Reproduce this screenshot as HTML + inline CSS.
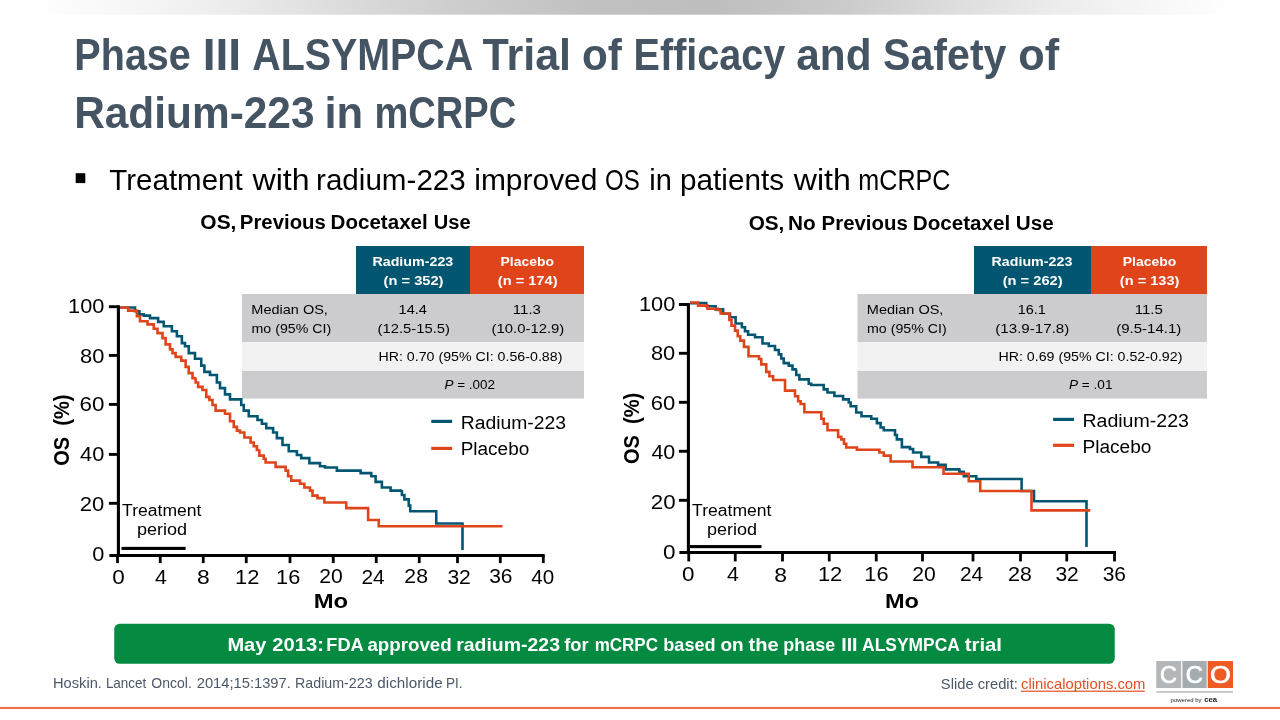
<!DOCTYPE html>
<html lang="en"><head><meta charset="utf-8"><title>Phase III ALSYMPCA Trial of Efficacy and Safety of Radium-223 in mCRPC</title>
<style>html,body{margin:0;padding:0;background:#fff;width:1280px;height:720px;overflow:hidden}svg{display:block}text{white-space:pre}</style></head><body>
<svg width="1280" height="720" viewBox="0 0 1280 720" font-family="'Liberation Sans', sans-serif">
<defs><linearGradient id="tg" x1="0" x2="1" y1="0" y2="0"><stop offset="0" stop-color="#ffffff"/><stop offset="0.03" stop-color="#fefefe"/><stop offset="0.08" stop-color="#f9f9f9"/><stop offset="0.16" stop-color="#efefef"/><stop offset="0.25" stop-color="#dfdfdf"/><stop offset="0.35" stop-color="#cecece"/><stop offset="0.47" stop-color="#c0c0c0"/><stop offset="0.56" stop-color="#bebebe"/><stop offset="0.66" stop-color="#cbcbcb"/><stop offset="0.75" stop-color="#dedede"/><stop offset="0.83" stop-color="#ededed"/><stop offset="0.91" stop-color="#f8f8f8"/><stop offset="0.965" stop-color="#ffffff"/><stop offset="1" stop-color="#ffffff"/></linearGradient></defs>
<rect width="1280" height="720" fill="#fff"/>
<rect x="0" y="0" width="1280" height="14.7" fill="url(#tg)"/>
<text y="70.25" font-size="44.2" fill="#445462" font-weight="bold"><tspan x="74.36" textLength="116.50" lengthAdjust="spacingAndGlyphs">Phase</tspan> <tspan x="202.67" textLength="38.42" lengthAdjust="spacingAndGlyphs">III</tspan> <tspan x="252.28" textLength="219.51" lengthAdjust="spacingAndGlyphs">ALSYMPCA</tspan> <tspan x="482.52" textLength="88.53" lengthAdjust="spacingAndGlyphs">Trial</tspan> <tspan x="582.10" textLength="39.82" lengthAdjust="spacingAndGlyphs">of</tspan> <tspan x="633.61" textLength="151.61" lengthAdjust="spacingAndGlyphs">Efficacy</tspan> <tspan x="796.26" textLength="75.28" lengthAdjust="spacingAndGlyphs">and</tspan> <tspan x="883.07" textLength="123.41" lengthAdjust="spacingAndGlyphs">Safety</tspan> <tspan x="1018.31" textLength="40.86" lengthAdjust="spacingAndGlyphs">of</tspan></text>
<text y="127.60" font-size="44.2" fill="#445462" font-weight="bold"><tspan x="74.16" textLength="240.37" lengthAdjust="spacingAndGlyphs">Radium-223</tspan> <tspan x="324.46" textLength="38.75" lengthAdjust="spacingAndGlyphs">in</tspan> <tspan x="374.49" textLength="141.80" lengthAdjust="spacingAndGlyphs">mCRPC</tspan></text>
<rect x="75.7" y="173.2" width="9.6" height="9.9" fill="#000"/>
<text y="189.70" font-size="29.3" fill="#000"><tspan x="109.34" textLength="133.38" lengthAdjust="spacingAndGlyphs">Treatment</tspan> <tspan x="252.55" textLength="57.04" lengthAdjust="spacingAndGlyphs">with</tspan> <tspan x="316.03" textLength="149.77" lengthAdjust="spacingAndGlyphs">radium-223</tspan> <tspan x="474.25" textLength="123.18" lengthAdjust="spacingAndGlyphs">improved</tspan> <tspan x="605.11" textLength="34.74" lengthAdjust="spacingAndGlyphs">OS</tspan> <tspan x="649.31" textLength="22.57" lengthAdjust="spacingAndGlyphs">in</tspan> <tspan x="680.09" textLength="103.99" lengthAdjust="spacingAndGlyphs">patients</tspan> <tspan x="793.80" textLength="57.04" lengthAdjust="spacingAndGlyphs">with</tspan> <tspan x="858.33" textLength="92.13" lengthAdjust="spacingAndGlyphs">mCRPC</tspan></text>
<text y="228.70" font-size="20" fill="#000" font-weight="bold"><tspan x="200.39" textLength="36.01" lengthAdjust="spacingAndGlyphs">OS,</tspan> <tspan x="239.89" textLength="85.95" lengthAdjust="spacingAndGlyphs">Previous</tspan> <tspan x="330.63" textLength="97.08" lengthAdjust="spacingAndGlyphs">Docetaxel</tspan> <tspan x="433.79" textLength="36.90" lengthAdjust="spacingAndGlyphs">Use</tspan></text>
<text y="229.60" font-size="20" fill="#000" font-weight="bold"><tspan x="748.65" textLength="35.74" lengthAdjust="spacingAndGlyphs">OS,</tspan> <tspan x="788.11" textLength="27.70" lengthAdjust="spacingAndGlyphs">No</tspan> <tspan x="821.63" textLength="86.20" lengthAdjust="spacingAndGlyphs">Previous</tspan> <tspan x="912.87" textLength="97.34" lengthAdjust="spacingAndGlyphs">Docetaxel</tspan> <tspan x="1015.76" textLength="37.95" lengthAdjust="spacingAndGlyphs">Use</tspan></text>
<rect x="356" y="246" width="114" height="48" fill="#025671"/>
<rect x="470" y="246" width="114" height="48" fill="#E0441A"/>
<rect x="242" y="294" width="342" height="48" fill="#CCCCCE"/>
<rect x="242" y="342" width="342" height="29" fill="#F2F2F2"/>
<rect x="242" y="371" width="342" height="27.6" fill="#CCCCCE"/>
<text x="372.45" y="265.75" font-size="13.5" textLength="80.82" lengthAdjust="spacingAndGlyphs" fill="#fff" font-weight="bold" >Radium-223</text>
<text x="383.57" y="284.50" font-size="13.5" textLength="59.96" lengthAdjust="spacingAndGlyphs" fill="#fff" font-weight="bold" >(n = 352)</text>
<text x="500.57" y="265.75" font-size="13.5" textLength="53.37" lengthAdjust="spacingAndGlyphs" fill="#fff" font-weight="bold" >Placebo</text>
<text x="497.77" y="284.50" font-size="13.5" textLength="59.76" lengthAdjust="spacingAndGlyphs" fill="#fff" font-weight="bold" >(n = 174)</text>
<text x="251.31" y="313.80" font-size="13.5" textLength="76.59" lengthAdjust="spacingAndGlyphs" fill="#000" >Median OS,</text>
<text x="251.56" y="332.80" font-size="13.5" textLength="79.62" lengthAdjust="spacingAndGlyphs" fill="#000" >mo (95% CI)</text>
<text x="398.59" y="313.75" font-size="13.5" textLength="28.34" lengthAdjust="spacingAndGlyphs" fill="#000" >14.4</text>
<text x="377.58" y="332.60" font-size="13.5" textLength="72.33" lengthAdjust="spacingAndGlyphs" fill="#000" >(12.5-15.5)</text>
<text x="512.86" y="313.75" font-size="13.5" textLength="28.10" lengthAdjust="spacingAndGlyphs" fill="#000" >11.3</text>
<text x="491.58" y="332.60" font-size="13.5" textLength="72.74" lengthAdjust="spacingAndGlyphs" fill="#000" >(10.0-12.9)</text>
<text x="378.43" y="360.90" font-size="13.5" textLength="183.95" lengthAdjust="spacingAndGlyphs" fill="#000" >HR: 0.70 (95% CI: 0.56-0.88)</text>
<text x="444.50" y="388.8" font-size="13.5" textLength="50.50" lengthAdjust="spacingAndGlyphs"><tspan font-style="italic">P</tspan> = .002</text>
<rect x="974" y="246" width="117" height="48" fill="#025671"/>
<rect x="1091" y="246" width="116" height="48" fill="#E0441A"/>
<rect x="857.5" y="294" width="349.5" height="48" fill="#CCCCCE"/>
<rect x="857.5" y="342" width="349.5" height="29" fill="#F2F2F2"/>
<rect x="857.5" y="371" width="349.5" height="27.6" fill="#CCCCCE"/>
<text x="991.55" y="265.75" font-size="13.5" textLength="80.77" lengthAdjust="spacingAndGlyphs" fill="#fff" font-weight="bold" >Radium-223</text>
<text x="1002.67" y="284.50" font-size="13.5" textLength="59.96" lengthAdjust="spacingAndGlyphs" fill="#fff" font-weight="bold" >(n = 262)</text>
<text x="1122.82" y="265.75" font-size="13.5" textLength="53.43" lengthAdjust="spacingAndGlyphs" fill="#fff" font-weight="bold" >Placebo</text>
<text x="1119.87" y="284.50" font-size="13.5" textLength="59.55" lengthAdjust="spacingAndGlyphs" fill="#fff" font-weight="bold" >(n = 133)</text>
<text x="866.81" y="313.80" font-size="13.5" textLength="76.59" lengthAdjust="spacingAndGlyphs" fill="#000" >Median OS,</text>
<text x="867.06" y="332.80" font-size="13.5" textLength="79.62" lengthAdjust="spacingAndGlyphs" fill="#000" >mo (95% CI)</text>
<text x="1017.65" y="313.75" font-size="13.5" textLength="28.05" lengthAdjust="spacingAndGlyphs" fill="#000" >16.1</text>
<text x="995.31" y="332.60" font-size="13.5" textLength="74.03" lengthAdjust="spacingAndGlyphs" fill="#000" >(13.9-17.8)</text>
<text x="1134.76" y="313.75" font-size="13.5" textLength="28.07" lengthAdjust="spacingAndGlyphs" fill="#000" >11.5</text>
<text x="1116.27" y="332.60" font-size="13.5" textLength="65.06" lengthAdjust="spacingAndGlyphs" fill="#000" >(9.5-14.1)</text>
<text x="998.43" y="360.90" font-size="13.5" textLength="183.95" lengthAdjust="spacingAndGlyphs" fill="#000" >HR: 0.69 (95% CI: 0.52-0.92)</text>
<text x="1069.00" y="388.8" font-size="13.5" textLength="43.50" lengthAdjust="spacingAndGlyphs"><tspan font-style="italic">P</tspan> = .01</text>
<path d="M120,307.5 L135,307.5 L135,311.25 L139.38,311.25 L139.38,314.38 L143.75,314.38 L143.75,315.62 L150,315.62 L150,318.12 L158.12,318.12 L158.12,321.88 L163.75,321.88 L163.75,326.25 L171.88,326.25 L171.88,331.25 L176.88,331.25 L176.88,336.25 L181.88,336.25 L181.88,343.12 L185,343.12 L185,346.25 L188.75,346.25 L188.75,353.12 L195,353.12 L195,358.75 L201.25,358.75 L201.25,365.62 L204.38,365.62 L204.38,371.88 L210,371.88 L210,375 L213.75,375 L216.88,375 L216.88,376.88 L216.88,382.5 L220,382.5 L220,388.12 L225,388.12 L225,394.38 L230,394.38 L230,399.38 L241.25,399.38 L241.25,405 L243.75,405 L243.75,410.62 L248.75,410.62 L248.75,416.25 L257.5,416.25 L257.5,420 L261.88,420 L261.88,423.75 L266.25,423.75 L266.25,428.12 L273.12,428.12 L273.12,432.5 L276.88,432.5 L276.88,438.12 L282.5,438.12 L282.5,445 L288.75,445 L288.75,451.25 L296.88,451.25 L296.88,455 L301.25,455 L301.25,458.12 L309.38,458.12 L309.38,463.12 L320,463.12 L320,466.25 L325,466.25 L325,467.5 L336.88,467.5 L336.88,470.62 L360.62,470.62 L360.62,473.12 L371.25,473.12 L371.25,476.25 L375.62,476.25 L375.62,481.88 L381.88,481.88 L381.88,487.5 L390.62,487.5 L390.62,490.62 L401.88,490.62 L401.88,490 L401.88,495 L404.38,495 L404.38,499.38 L408.75,499.38 L408.75,505.62 L410.25,505.62 L410.25,511.25 L436.25,511.25 L436.25,523.5 L462.5,523.5 L462.5,550" fill="none" stroke="#025671" stroke-width="2.6" stroke-linejoin="miter"/>
<path d="M120,307.5 L128.12,307.5 L128.12,310.62 L136.88,310.62 L136.88,316.25 L140,316.25 L140,321.25 L147.5,321.25 L147.5,324.38 L153.75,324.38 L153.75,328.75 L157.5,328.75 L157.5,333.12 L162.5,333.12 L162.5,338.12 L165.62,338.12 L165.62,344.38 L170,344.38 L170,349.38 L172.5,349.38 L172.5,353.12 L175.62,353.12 L175.62,356.88 L181.25,356.88 L181.25,360.62 L185.62,360.62 L185.62,366.88 L188.75,366.88 L188.75,373.12 L192.5,373.12 L192.5,378.12 L195.62,378.12 L195.62,377.5 L195.62,382.5 L198.12,382.5 L198.12,386.88 L202.5,386.88 L202.5,390 L206.25,390 L206.25,396.88 L209.38,396.88 L209.38,400 L212.5,400 L212.5,405 L215.62,405 L215.62,410.62 L225,410.62 L225,413.75 L230,413.75 L230,421.25 L233.75,421.25 L233.75,426.88 L236.88,426.88 L236.88,430.62 L240,430.62 L240,432.5 L244.38,432.5 L244.38,437.5 L250.62,437.5 L250.62,442.5 L253.75,442.5 L253.75,446.25 L256.88,446.25 L256.88,450 L259.38,450 L259.38,449.38 L259.38,455.62 L263.75,455.62 L263.75,458.75 L265.62,458.75 L265.62,462.5 L275.62,462.5 L275.62,466.88 L285.62,466.88 L285.62,470.62 L288.12,470.62 L288.12,476.25 L291.25,476.25 L291.25,480.62 L300,480.62 L300,483.75 L304.38,483.75 L304.38,487.5 L310,487.5 L310,490.62 L312.5,490.62 L312.5,495.62 L317.5,495.62 L317.5,498.12 L324.38,498.12 L324.38,502.5 L346.25,502.5 L346.25,508.12 L368.12,508.12 L368.12,520 L378.75,520 L378.75,526.25 L502.5,526.25" fill="none" stroke="#E0441A" stroke-width="2.6" stroke-linejoin="miter"/>
<rect x="116.85000000000001" y="305.25" width="3.1" height="251.75" fill="#000"/>
<rect x="109.4" y="554.0" width="435.30000000000007" height="3" fill="#000"/>
<rect x="108.9" y="305.25" width="9.5" height="2.9" fill="#000"/>
<rect x="108.9" y="353.95" width="9.5" height="2.9" fill="#000"/>
<rect x="108.9" y="402.95" width="9.5" height="2.9" fill="#000"/>
<rect x="108.9" y="452.95" width="9.5" height="2.9" fill="#000"/>
<rect x="108.9" y="501.85" width="9.5" height="2.9" fill="#000"/>
<text x="68.09" y="312.90" font-size="21" textLength="36.25" lengthAdjust="spacingAndGlyphs" fill="#000" >100</text>
<text x="80.05" y="362.50" font-size="21" textLength="24.30" lengthAdjust="spacingAndGlyphs" fill="#000" >80</text>
<text x="79.46" y="411.25" font-size="21" textLength="24.91" lengthAdjust="spacingAndGlyphs" fill="#000" >60</text>
<text x="80.10" y="461.00" font-size="21" textLength="24.25" lengthAdjust="spacingAndGlyphs" fill="#000" >40</text>
<text x="79.89" y="510.60" font-size="21" textLength="24.47" lengthAdjust="spacingAndGlyphs" fill="#000" >20</text>
<text x="92.25" y="560.60" font-size="21" textLength="12.10" lengthAdjust="spacingAndGlyphs" fill="#000" >0</text>
<rect x="116.1" y="555.5" width="2.8" height="7.6" fill="#000"/>
<text x="112.15" y="584.00" font-size="21" textLength="12.51" lengthAdjust="spacingAndGlyphs" fill="#000" >0</text>
<rect x="158.85" y="555.5" width="2.8" height="7.6" fill="#000"/>
<text x="155.04" y="584.00" font-size="21" textLength="11.86" lengthAdjust="spacingAndGlyphs" fill="#000" >4</text>
<rect x="201.85" y="555.5" width="2.8" height="7.6" fill="#000"/>
<text x="197.03" y="584.00" font-size="21" textLength="12.74" lengthAdjust="spacingAndGlyphs" fill="#000" >8</text>
<rect x="244.85" y="555.5" width="2.8" height="7.6" fill="#000"/>
<text x="235.03" y="584.00" font-size="21" textLength="24.37" lengthAdjust="spacingAndGlyphs" fill="#000" >12</text>
<rect x="288.6" y="555.5" width="2.8" height="7.6" fill="#000"/>
<text x="276.14" y="584.00" font-size="21" textLength="24.21" lengthAdjust="spacingAndGlyphs" fill="#000" >16</text>
<rect x="331.85" y="555.5" width="2.8" height="7.6" fill="#000"/>
<text x="319.39" y="583.10" font-size="21" textLength="23.49" lengthAdjust="spacingAndGlyphs" fill="#000" >20</text>
<rect x="374.85" y="555.5" width="2.8" height="7.6" fill="#000"/>
<text x="361.45" y="584.00" font-size="21" textLength="23.26" lengthAdjust="spacingAndGlyphs" fill="#000" >24</text>
<rect x="417.85" y="555.5" width="2.8" height="7.6" fill="#000"/>
<text x="404.38" y="582.75" font-size="21" textLength="23.59" lengthAdjust="spacingAndGlyphs" fill="#000" >28</text>
<rect x="456.1" y="555.5" width="2.8" height="7.6" fill="#000"/>
<text x="447.40" y="584.00" font-size="21" textLength="23.46" lengthAdjust="spacingAndGlyphs" fill="#000" >32</text>
<rect x="498.90000000000003" y="555.5" width="2.8" height="7.6" fill="#000"/>
<text x="489.15" y="582.75" font-size="21" textLength="23.32" lengthAdjust="spacingAndGlyphs" fill="#000" >36</text>
<rect x="541.9" y="555.5" width="2.8" height="7.6" fill="#000"/>
<text x="531.23" y="584.00" font-size="21" textLength="22.88" lengthAdjust="spacingAndGlyphs" fill="#000" >40</text>
<g transform="translate(69,465.0) rotate(-90)"><text x="-0.82" y="0.00" font-size="21.5" textLength="71.22" lengthAdjust="spacingAndGlyphs" fill="#000" font-weight="bold" >OS  (%)</text></g>
<text x="313.81" y="607.75" font-size="20.1" textLength="34.37" lengthAdjust="spacingAndGlyphs" fill="#000" font-weight="bold" >Mo</text>
<text x="122.11" y="515.60" font-size="15.8" textLength="79.27" lengthAdjust="spacingAndGlyphs" fill="#000" >Treatment</text>
<text x="136.94" y="535.00" font-size="15.8" textLength="50.23" lengthAdjust="spacingAndGlyphs" fill="#000" >period</text>
<rect x="121.5" y="546.85" width="64.1" height="3.1" fill="#000"/>
<rect x="431.25" y="419.79999999999995" width="20.850000000000023" height="3.2" fill="#025671"/>
<rect x="431.25" y="446.79999999999995" width="20.850000000000023" height="3.2" fill="#E0441A"/>
<text x="460.66" y="429.00" font-size="18.8" textLength="105.44" lengthAdjust="spacingAndGlyphs" fill="#000" >Radium-223</text>
<text x="460.69" y="454.75" font-size="18.8" textLength="68.60" lengthAdjust="spacingAndGlyphs" fill="#000" >Placebo</text>
<path d="M690,303.12 L706.25,303.12 L706.25,306.25 L715.62,306.25 L715.62,309.38 L723.12,309.38 L723.12,313.75 L730,313.75 L730,317.25 L735.62,317.25 L735.62,323.5 L741.88,323.5 L741.88,327.25 L745,327.25 L745,331.25 L748.12,331.25 L748.12,334.75 L755,334.75 L755,337.25 L762.5,337.25 L762.5,343.5 L768.75,343.5 L768.75,346 L775,346 L775,350 L778.75,350 L778.75,354.38 L781.25,354.38 L781.25,358.5 L783.75,358.5 L783.75,363.12 L788.75,363.12 L788.75,365.62 L792.5,365.62 L792.5,369.38 L796.88,369.38 L796.25,369.38 L796.25,375 L799.38,375 L799.38,379.38 L808.75,379.38 L808.75,383.75 L811.25,383.75 L811.25,385 L823.75,385 L823.75,389.38 L827.5,389.38 L827.5,392.5 L834.38,392.5 L834.38,396 L843.12,396 L843.12,399.38 L848.75,399.38 L848.75,402.5 L850.62,402.5 L850.62,406.25 L856.25,406.25 L856.25,412.5 L861.5,412.5 L861.5,416.25 L871.25,416.25 L871.25,418.75 L876.88,418.75 L876.88,423.12 L880.62,423.12 L880.62,427.5 L883.75,427.5 L883.75,430.25 L895,430.25 L895,435 L896.88,435 L896.88,439.38 L899.75,439.38 L901.88,439.38 L901.88,443.12 L901.88,447.12 L910,447.12 L910,449 L913.12,449 L913.12,452.5 L921.25,452.5 L921.25,456.88 L929,456.88 L929,462.5 L938.12,462.5 L938.12,464.75 L945.62,464.75 L945.62,469.38 L959.38,469.38 L959.38,471.88 L963.75,471.88 L963.75,476.25 L976.25,476.25 L976.25,479 L1021.62,479 L1021.62,479.38 L1021.62,491 L1034,491 L1034,501.25 L1086.5,501.25 L1086.5,546.88" fill="none" stroke="#025671" stroke-width="2.6" stroke-linejoin="miter"/>
<path d="M690,302.5 L698.12,302.5 L698.12,305.62 L707.5,305.62 L707.5,308.75 L717.5,308.75 L717.5,310 L720.62,310 L720.62,313.5 L729.38,313.5 L729.38,320 L731.5,320 L731.5,325.62 L735,325.62 L735,330.62 L737.75,330.62 L737.75,336.25 L740.25,336.25 L740.25,340.62 L744,340.62 L744,346.88 L748.5,346.88 L748.5,356.25 L759,356.25 L759,359 L761.25,359 L761.25,364.38 L766.25,364.38 L766.25,371.88 L769.38,371.88 L769.38,376.25 L773.12,376.25 L773.12,380 L785,380 L785,390.62 L795,390.62 L795,396.25 L798.12,396.25 L798.12,401.25 L800.62,401.25 L800.62,404 L804.38,404 L804.38,412.25 L821.25,412.25 L821.25,418.75 L823.75,418.75 L823.75,423.75 L827.5,423.75 L827.5,430.25 L838.12,430.25 L838.12,436.88 L841.25,436.88 L841.25,439.38 L844,439.38 L844,443.75 L846.25,443.75 L846.25,447.5 L856.88,447.5 L856.88,449.75 L879.38,449.75 L879.38,452.5 L883.75,452.5 L883.75,455.62 L890.62,455.62 L890.62,461.5 L912.5,461.5 L912.5,467.25 L943.5,467.25 L943.5,473.75 L968.75,473.75 L968.75,481.25 L980.25,481.25 L980.25,491 L1031.5,491 L1031.5,510.38 L1090.25,510.38" fill="none" stroke="#E0441A" stroke-width="2.6" stroke-linejoin="miter"/>
<rect x="686.85" y="303.05" width="3.1" height="250.95" fill="#000"/>
<rect x="679.4" y="551.0" width="436.5000000000001" height="3" fill="#000"/>
<rect x="678.9" y="303.05" width="9.5" height="2.9" fill="#000"/>
<rect x="678.9" y="351.85" width="9.5" height="2.9" fill="#000"/>
<rect x="678.9" y="400.85" width="9.5" height="2.9" fill="#000"/>
<rect x="678.9" y="449.8" width="9.5" height="2.9" fill="#000"/>
<rect x="678.9" y="498.85" width="9.5" height="2.9" fill="#000"/>
<text x="638.94" y="310.60" font-size="21" textLength="36.31" lengthAdjust="spacingAndGlyphs" fill="#000" >100</text>
<text x="650.95" y="360.00" font-size="21" textLength="24.30" lengthAdjust="spacingAndGlyphs" fill="#000" >80</text>
<text x="650.78" y="409.60" font-size="21" textLength="24.48" lengthAdjust="spacingAndGlyphs" fill="#000" >60</text>
<text x="651.41" y="458.75" font-size="21" textLength="23.83" lengthAdjust="spacingAndGlyphs" fill="#000" >40</text>
<text x="650.78" y="508.75" font-size="21" textLength="24.85" lengthAdjust="spacingAndGlyphs" fill="#000" >20</text>
<text x="663.12" y="558.75" font-size="21" textLength="12.51" lengthAdjust="spacingAndGlyphs" fill="#000" >0</text>
<rect x="687.35" y="552.5" width="2.8" height="8.9" fill="#000"/>
<text x="682.00" y="581.00" font-size="21" textLength="12.51" lengthAdjust="spacingAndGlyphs" fill="#000" >0</text>
<rect x="733.85" y="552.5" width="2.8" height="8.9" fill="#000"/>
<text x="727.14" y="581.00" font-size="21" textLength="11.86" lengthAdjust="spacingAndGlyphs" fill="#000" >4</text>
<rect x="781.1" y="552.5" width="2.8" height="8.9" fill="#000"/>
<text x="774.38" y="582.25" font-size="21" textLength="12.74" lengthAdjust="spacingAndGlyphs" fill="#000" >8</text>
<rect x="827.85" y="552.5" width="2.8" height="8.9" fill="#000"/>
<text x="817.93" y="581.00" font-size="21" textLength="24.37" lengthAdjust="spacingAndGlyphs" fill="#000" >12</text>
<rect x="874.85" y="552.5" width="2.8" height="8.9" fill="#000"/>
<text x="864.29" y="581.00" font-size="21" textLength="24.21" lengthAdjust="spacingAndGlyphs" fill="#000" >16</text>
<rect x="921.1" y="552.5" width="2.8" height="8.9" fill="#000"/>
<text x="912.39" y="581.00" font-size="21" textLength="23.49" lengthAdjust="spacingAndGlyphs" fill="#000" >20</text>
<rect x="971.6" y="552.5" width="2.8" height="8.9" fill="#000"/>
<text x="959.90" y="581.00" font-size="21" textLength="23.26" lengthAdjust="spacingAndGlyphs" fill="#000" >24</text>
<rect x="1019.1" y="552.5" width="2.8" height="8.9" fill="#000"/>
<text x="1008.13" y="581.00" font-size="21" textLength="23.59" lengthAdjust="spacingAndGlyphs" fill="#000" >28</text>
<rect x="1065.35" y="552.5" width="2.8" height="8.9" fill="#000"/>
<text x="1055.40" y="581.00" font-size="21" textLength="23.46" lengthAdjust="spacingAndGlyphs" fill="#000" >32</text>
<rect x="1113.1" y="552.5" width="2.8" height="8.9" fill="#000"/>
<text x="1102.65" y="581.00" font-size="21" textLength="23.32" lengthAdjust="spacingAndGlyphs" fill="#000" >36</text>
<g transform="translate(639,463.15) rotate(-90)"><text x="-0.82" y="0.00" font-size="21.5" textLength="71.22" lengthAdjust="spacingAndGlyphs" fill="#000" font-weight="bold" >OS  (%)</text></g>
<text x="885.03" y="607.75" font-size="20.1" textLength="33.99" lengthAdjust="spacingAndGlyphs" fill="#000" font-weight="bold" >Mo</text>
<text x="692.11" y="515.60" font-size="15.8" textLength="79.27" lengthAdjust="spacingAndGlyphs" fill="#000" >Treatment</text>
<text x="706.94" y="535.00" font-size="15.8" textLength="50.23" lengthAdjust="spacingAndGlyphs" fill="#000" >period</text>
<rect x="690" y="545.0500000000001" width="71.5" height="3.1" fill="#000"/>
<rect x="1053.1" y="417.79999999999995" width="20.90000000000009" height="3.2" fill="#025671"/>
<rect x="1053.1" y="443.7" width="20.90000000000009" height="3.2" fill="#E0441A"/>
<text x="1082.40" y="426.90" font-size="18.8" textLength="106.56" lengthAdjust="spacingAndGlyphs" fill="#000" >Radium-223</text>
<text x="1082.43" y="452.75" font-size="18.8" textLength="68.97" lengthAdjust="spacingAndGlyphs" fill="#000" >Placebo</text>
<rect x="114.25" y="623.75" width="1000.5" height="40" rx="5.5" ry="5.5" fill="#058A42"/>
<text y="650.60" font-size="18.4" fill="#fff" font-weight="bold"><tspan x="227.41" textLength="38.95" lengthAdjust="spacingAndGlyphs">May</tspan> <tspan x="272.30" textLength="51.64" lengthAdjust="spacingAndGlyphs">2013:</tspan> <tspan x="326.31" textLength="36.66" lengthAdjust="spacingAndGlyphs">FDA</tspan> <tspan x="367.45" textLength="84.28" lengthAdjust="spacingAndGlyphs">approved</tspan> <tspan x="456.22" textLength="103.73" lengthAdjust="spacingAndGlyphs">radium-223</tspan> <tspan x="564.19" textLength="24.34" lengthAdjust="spacingAndGlyphs">for</tspan> <tspan x="594.63" textLength="63.34" lengthAdjust="spacingAndGlyphs">mCRPC</tspan> <tspan x="663.31" textLength="52.39" lengthAdjust="spacingAndGlyphs">based</tspan> <tspan x="720.51" textLength="23.17" lengthAdjust="spacingAndGlyphs">on</tspan> <tspan x="748.50" textLength="30.18" lengthAdjust="spacingAndGlyphs">the</tspan> <tspan x="783.32" textLength="51.79" lengthAdjust="spacingAndGlyphs">phase</tspan> <tspan x="841.19" textLength="16.38" lengthAdjust="spacingAndGlyphs">III</tspan> <tspan x="862.07" textLength="97.14" lengthAdjust="spacingAndGlyphs">ALSYMPCA</tspan> <tspan x="964.75" textLength="37.18" lengthAdjust="spacingAndGlyphs">trial</tspan></text>
<text y="687.90" font-size="14.1" fill="#4B5868"><tspan x="53.05" textLength="48.79" lengthAdjust="spacingAndGlyphs">Hoskin.</tspan> <tspan x="105.89" textLength="40.45" lengthAdjust="spacingAndGlyphs">Lancet</tspan> <tspan x="151.34" textLength="40.44" lengthAdjust="spacingAndGlyphs">Oncol.</tspan> <tspan x="196.76" textLength="94.08" lengthAdjust="spacingAndGlyphs">2014;15:1397.</tspan> <tspan x="295.08" textLength="77.54" lengthAdjust="spacingAndGlyphs">Radium-223</tspan> <tspan x="377.36" textLength="65.32" lengthAdjust="spacingAndGlyphs">dichloride</tspan> <tspan x="445.89" textLength="16.60" lengthAdjust="spacingAndGlyphs">PI.</tspan></text>
<text x="940.83" y="688.60" font-size="14.5" textLength="77.02" lengthAdjust="spacingAndGlyphs" fill="#4B5868" >Slide credit:</text>
<text x="1020.97" y="688.60" font-size="14.5" textLength="124.51" lengthAdjust="spacingAndGlyphs" fill="#E4501F" >clinicaloptions.com</text>
<rect x="1021" y="690.6" width="123.8" height="1.2" fill="#E4501F"/>
<rect x="1156.25" y="661" width="24.9" height="27" fill="#B3B7BA"/>
<rect x="1182.4" y="661" width="24.3" height="27" fill="#A4ACAF"/>
<rect x="1207.7" y="661" width="25.3" height="27" fill="#EF5B24"/>
<rect x="1156.25" y="691" width="76.75" height="1.8" fill="#C2C5C8"/>
<text x="1160.01" y="683.00" font-size="23.5" textLength="16.88" lengthAdjust="spacingAndGlyphs" fill="#fff" stroke="#fff" stroke-width="0.7">C</text>
<text x="1185.80" y="683.00" font-size="23.5" textLength="17.10" lengthAdjust="spacingAndGlyphs" fill="#fff" stroke="#fff" stroke-width="0.7">C</text>
<text x="1210.03" y="683.00" font-size="23.5" textLength="20.85" lengthAdjust="spacingAndGlyphs" fill="#fff" stroke="#fff" stroke-width="0.7">O</text>
<text x="1170.61" y="701.60" font-size="5.3" textLength="30.90" lengthAdjust="spacingAndGlyphs" fill="#222" >powered by</text>
<text x="1204.30" y="701.60" font-size="7" textLength="12.85" lengthAdjust="spacingAndGlyphs" fill="#222" font-weight="bold" >cea</text>
<rect x="0" y="706.9" width="1280" height="2.1" fill="#F06E46"/>
</svg></body></html>
